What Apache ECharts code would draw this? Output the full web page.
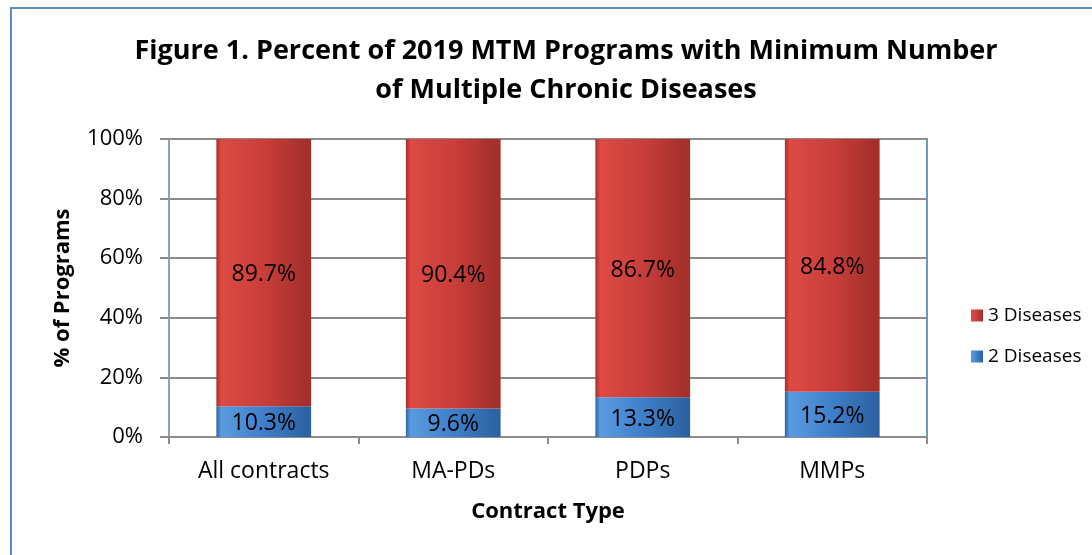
<!DOCTYPE html>
<html>
<head>
<meta charset="utf-8">
<script src="https://cdn.jsdelivr.net/npm/echarts@6/dist/echarts.min.js"></script>
<style>
  html, body { margin: 0; padding: 0; background: #fff; }
  #chart { width: 1092px; height: 555px; }
</style>
</head>
<body>
<div id="chart"></div>
<script>
// chart data
var contractTypes = ['All contracts', 'MA-PDs', 'PDPs', 'MMPs']
var twoDiseases = [10.3, 9.6, 13.3, 15.2]
var threeDiseases = [89.7, 90.4, 86.7, 84.8]
var font = '"Open Sans", "Noto Sans", sans-serif'

var chart = echarts.init(document.getElementById('chart'))

// bevelled-looking fill
function barFill (light, mid, dark) {
  return new echarts.graphic.LinearGradient(0, 0, 1, 0, [
    { offset: 0, color: dark },
    { offset: 0.05, color: light },
    { offset: 0.5, color: mid },
    { offset: 0.95, color: dark },
    { offset: 1, color: dark }
  ])
}

var labelOpt = {
  show: true,
  position: 'inside',
  fontFamily: font,
  fontSize: 23,
  color: '#000',
  offset: [0, 2],
  formatter: function (p) { return p.value.toFixed(1) + '%' }
}

chart.setOption({
  animation: false,
  textStyle: { fontFamily: font },
  graphic: [{
    type: 'rect',
    shape: { x: 11, y: 8, width: 1100, height: 570 },
    style: { fill: 'none', stroke: '#5b8ac6', lineWidth: 2 }
  }],
  title: {
    text: 'Figure 1. Percent of 2019 MTM Programs with Minimum Number\nof Multiple Chronic Diseases',
    left: 561,
    top: 27,
    textAlign: 'center',
    textStyle: { fontFamily: font, fontSize: 27, fontWeight: 'bold', color: '#000', lineHeight: 39 }
  },
  legend: {
    orient: 'vertical',
    left: 966,
    top: 301,
    itemGap: 22,
    itemWidth: 12,
    itemHeight: 12,
    icon: 'rect',
    data: ['3 Diseases', '2 Diseases'],
    textStyle: { fontFamily: font, fontSize: 19, color: '#000' }
  },
  grid: {
    left: 169,
    right: 165,
    top: 139,
    bottom: 118,
    show: true,
    borderColor: '#6a98d0',
    borderWidth: 2
  },
  xAxis: {
    type: 'category',
    data: contractTypes,
    name: 'Contract Type',
    nameLocation: 'middle',
    nameGap: 64,
    nameTextStyle: { fontFamily: font, fontSize: 22, fontWeight: 'bold', color: '#000' },
    axisLine: { lineStyle: { color: '#8c8c8c', width: 2 } },
    axisTick: { show: true, length: 7, lineStyle: { color: '#8c8c8c', width: 2 } },
    axisLabel: { fontFamily: font, fontSize: 23, color: '#000', margin: 23 }
  },
  yAxis: {
    type: 'value',
    min: 0,
    max: 100,
    interval: 20,
    name: '% of Programs',
    nameLocation: 'middle',
    nameGap: 95,
    nameTextStyle: { fontFamily: font, fontSize: 22, fontWeight: 'bold', color: '#000' },
    axisLine: { show: true, lineStyle: { color: '#8fa2bd', width: 2 } },
    axisTick: { show: true, length: 9, lineStyle: { color: '#8c8c8c', width: 2 } },
    axisLabel: { fontFamily: font, fontSize: 22, color: '#000', margin: 26, formatter: '{value}%' },
    splitLine: { lineStyle: { color: '#8c8c8c', width: 2 } }
  },
  series: [
    {
      name: '2 Diseases',
      type: 'bar',
      stack: 'total',
      barWidth: '50%',
      data: twoDiseases,
      itemStyle: { color: barFill('#5a9be0', '#3f7fca', '#2d63a3') },
      label: labelOpt
    },
    {
      name: '3 Diseases',
      type: 'bar',
      stack: 'total',
      barWidth: '50%',
      data: threeDiseases,
      itemStyle: { color: barFill('#dd4a44', '#c93e3a', '#a42f2b') },
      label: labelOpt
    }
  ]
})
</script>
</body>
</html>
